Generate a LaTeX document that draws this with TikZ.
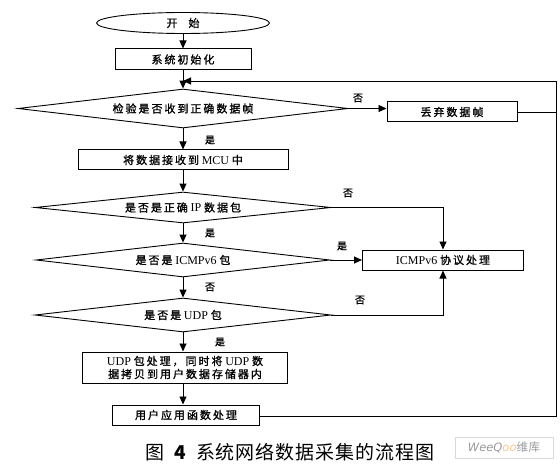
\documentclass[tikz,border=0pt]{standalone}
\usepackage{fontspec}
\setmainfont{Liberation Serif}
\newfontfamily\zhfont[LetterSpace=18,FakeBold=1.2]{Noto Sans CJK SC}
\newfontfamily\zhcap[LetterSpace=5]{Noto Sans CJK SC}
\newfontfamily\wmfont{DejaVu Sans}
\newcommand{\zh}[1]{{\zhfont #1}}
\newcommand{\lt}[1]{{\fontsize{12}{14}\selectfont #1}}
\usetikzlibrary{shapes.geometric,arrows.meta}
\begin{document}
\begin{tikzpicture}[x=1pt,y=-1pt,line width=0.9pt,
  box/.style={draw,rectangle,inner sep=0pt,line width=1pt,font=\fontsize{11}{14}\selectfont},
  dec/.style={draw,diamond,inner sep=0pt,font=\fontsize{11}{14}\selectfont},
  arr/.style={-{Triangle[length=8pt,width=7pt]}},
  lab/.style={inner sep=0pt,font=\zhfont\fontsize{10}{12}\selectfont}]
\useasboundingbox (0,0) rectangle (560,468);
\node[draw,ellipse,inner sep=0pt,minimum width=173pt,minimum height=21pt,font=\fontsize{11}{14}\selectfont] (start) at (183,23) {\zh{开\quad 始}};
\node[box,minimum width=136pt,minimum height=21pt] (init) at (183,59.5) {\zh{系统初始化}};
\node[dec,aspect=8.46,minimum width=330pt,minimum height=39pt] (d1) at (183,108.5) {\zh{检验是否收到正确数据帧}};
\node[box,minimum width=130pt,minimum height=20pt] (drop) at (452,112) {\zh{丢弃数据帧}};
\node[box,minimum width=210pt,minimum height=20pt] (mcu) at (183,160) {\zh{将数据接收到} \lt{MCU} \zh{中}};
\node[dec,aspect=9.55,minimum width=296pt,minimum height=31pt] (d2) at (183,207.5) {\zh{是否是正确} \lt{IP} \zh{数据包}};
\node[dec,aspect=8.65,minimum width=294pt,minimum height=34pt] (d3) at (183,260) {\zh{是否是} \lt{ICMPv6} \zh{包}};
\node[box,minimum width=161pt,minimum height=20pt] (icmp) at (443,260) {\lt{ICMPv6} \zh{协议处理}};
\node[dec,aspect=8.7,minimum width=296pt,minimum height=34pt] (d4) at (183,315) {\zh{是否是} \lt{UDP} \zh{包}};
\node[box,minimum width=205pt,minimum height=31pt,align=center] (udp) at (185,367.5) {\lt{UDP} \zh{包处理，同时将} \lt{UDP} \zh{数}\\[-1pt]\zh{据拷贝到用户数据存储器内}};
\node[box,minimum width=147pt,minimum height=20pt] (final) at (186,415) {\zh{用户应用函数处理}};
\coordinate (loopin) at (183,81);
\coordinate (rtop) at (556,81);
\coordinate (rbot) at (556,416);
% connectors
\draw[arr] (start) -- (init);
\draw[arr] (init) -- (d1);
\draw[arr] (d1.east) -- (d1.east -| drop.west);
\draw[arr] (d1) -- (mcu);
\draw[arr] (mcu) -- (d2);
\draw[arr] (d2.east) -| (icmp.north);
\draw[arr] (d2) -- (d3);
\draw[arr] (d3.east) -- (icmp.west);
\draw[arr] (d3) -- (d4);
\draw[arr] (d4.east) -| (icmp.south);
\draw[arr] (d4.south) -- (d4.south |- udp.north);
\draw[arr] (udp.south -| d4.south) -- (d4.south |- final.north);
\draw[arr] (final.east |- rbot) -- (rbot) -- (rtop) -- (loopin);
\draw (drop.east) -- (drop.east -| rtop);
% labels
\node[lab] (l1) at (358,98) {否};
\node[lab] (l2) at (210,140) {是};
\node[lab] (l3) at (348,193) {否};
\node[lab] (l4) at (210,233) {是};
\node[lab] (l5) at (342,246) {是};
\node[lab] (l6) at (210,287) {否};
\node[lab] (l7) at (360,300) {否};
\node[lab] (l8) at (220,342) {是};
% caption
\node[inner sep=0pt,font=\fontsize{19}{22}\selectfont] (cap) at (290,452) {\zhcap 图\enspace\textbf{4}\enspace 系统网络数据采集的流程图};
\node[draw=black!15,line width=0.6pt,minimum width=98pt,minimum height=21pt,inner sep=0pt,font=\fontsize{11.5}{13}\selectfont,text=black!40] (wm) at (504,447.5) {\wmfont\itshape WeeQ\textcolor{orange!45}{oo}\zhcap 维库};
\end{tikzpicture}
\end{document}
